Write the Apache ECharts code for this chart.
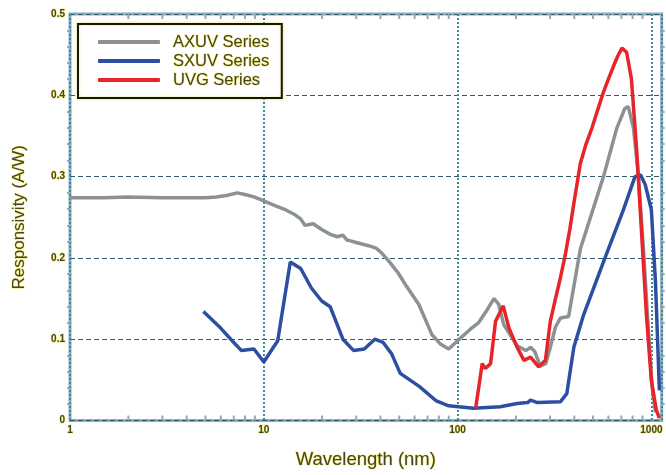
<!DOCTYPE html>
<html>
<head>
<meta charset="utf-8">
<script src="https://cdn.jsdelivr.net/npm/echarts@6/dist/echarts.min.js"></script>
<style>
  html, body { margin: 0; padding: 0; background: #fff; }
  #chart { width: 666px; height: 475px; }
</style>
</head>
<body>
<div id="chart"></div>
<script>
// wavelength (nm) / responsivity (A/W)
var axuvWl = [1, 1.5, 2, 3, 4, 5, 5.7, 6.5, 7.3, 8, 8.9, 10, 11.5, 13, 14.5, 15.5, 16.3, 18, 19.9, 22, 24, 25.6, 26.9, 28, 30, 34.7, 38, 40.2, 44.5, 49.2, 54.5, 63, 68, 73.6, 81.5, 90, 100, 116, 128, 142, 154, 163, 173, 203, 225, 238, 250, 267, 285, 301, 320, 339, 374, 430, 566, 664, 730, 760, 808, 858, 910, 960, 1010, 1050]
var axuvResp = [0.274, 0.274, 0.275, 0.274, 0.274, 0.274, 0.275, 0.277, 0.280, 0.278, 0.275, 0.270, 0.264, 0.259, 0.253, 0.248, 0.240, 0.242, 0.235, 0.229, 0.226, 0.228, 0.222, 0.221, 0.219, 0.215, 0.212, 0.207, 0.195, 0.182, 0.165, 0.143, 0.125, 0.106, 0.094, 0.088, 0.098, 0.112, 0.120, 0.136, 0.150, 0.143, 0.118, 0.092, 0.086, 0.090, 0.085, 0.067, 0.070, 0.090, 0.115, 0.126, 0.128, 0.211, 0.300, 0.360, 0.384, 0.386, 0.360, 0.300, 0.211, 0.120, 0.040, 0.010]

var sxuvWl = [4.88, 5.97, 7.0, 7.67, 8.9, 10, 11.8, 13.7, 15.5, 17.6, 19.9, 22, 25.6, 29.1, 33, 37.4, 41.3, 45.7, 50.6, 63.4, 77.7, 90, 121, 166, 203, 230, 238, 258, 339, 366, 398, 447, 566, 717, 823, 880, 930, 1000, 1050, 1100]
var sxuvResp = [0.134, 0.114, 0.096, 0.086, 0.088, 0.072, 0.098, 0.195, 0.187, 0.163, 0.147, 0.140, 0.100, 0.086, 0.088, 0.100, 0.096, 0.082, 0.058, 0.042, 0.024, 0.018, 0.015, 0.017, 0.021, 0.022, 0.025, 0.022, 0.023, 0.033, 0.090, 0.130, 0.195, 0.259, 0.300, 0.302, 0.290, 0.259, 0.170, 0.037]

var uvgWl = [124, 134, 139, 148, 157, 172, 184, 203, 220, 238, 262, 284, 301, 320, 339, 359, 380, 398, 430, 460, 494, 530, 566, 600, 638, 670, 705, 745, 789, 840, 890, 943, 999, 1060, 1100]
var uvgResp = [0.015, 0.070, 0.064, 0.070, 0.122, 0.141, 0.114, 0.090, 0.074, 0.078, 0.066, 0.074, 0.122, 0.150, 0.175, 0.203, 0.236, 0.267, 0.316, 0.340, 0.360, 0.383, 0.404, 0.420, 0.436, 0.448, 0.458, 0.453, 0.420, 0.332, 0.231, 0.130, 0.050, 0.013, 0.003]

var minorTicks = [2, 3, 4, 5, 6, 7, 8, 9, 20, 30, 40, 50, 60, 70, 80, 90, 200, 300, 400, 500, 600, 700, 800, 900]

function zip(xs, ys) {
  return xs.map(function (x, i) { return [x, ys[i]] })
}

var textCol = '#4a4712'
var halo = 'rgba(235,225,90,0.8)'
var frameCol = '#8eaabb'
var font = 'Liberation Sans, Arial, sans-serif'

var chart = echarts.init(document.getElementById('chart'))

var yAxisBase = {
  type: 'value',
  min: 0,
  max: 0.5,
  interval: 0.1,
  axisLine: { show: false },
  axisTick: { show: false },
  minorTick: { show: true, splitNumber: 5, length: 3, lineStyle: { color: frameCol, width: 2 } },
  minorSplitLine: { show: false }
}

var option = {
  animation: false,
  grid: {
    left: 70, right: 2, top: 14, bottom: 47,
    show: true, borderColor: frameCol, borderWidth: 3, backgroundColor: '#fff'
  },
  legend: {
    orient: 'vertical',
    left: 78, top: 24,
    padding: [9, 12, 9, 20],
    itemGap: 1,
    itemWidth: 62, itemHeight: 4,
    icon: 'roundRect',
    borderColor: '#151510', borderWidth: 2,
    shadowColor: halo, shadowBlur: 3,
    backgroundColor: '#fff',
    textStyle: {
      fontFamily: font, fontSize: 16.5,
      color: textCol, textBorderColor: halo, textBorderWidth: 1,
      padding: [0, 0, 0, 8]
    },
    data: ['AXUV Series', 'SXUV Series', 'UVG Series']
  },
  xAxis: [{
    type: 'log',
    logBase: 10,
    min: 1,
    max: 1130,
    name: 'Wavelength (nm)',
    nameLocation: 'middle',
    nameGap: 30,
    nameTextStyle: {
      fontFamily: font, fontSize: 18.5,
      color: textCol, textBorderColor: halo, textBorderWidth: 1
    },
    axisLine: { show: false },
    axisTick: { show: false },
    axisLabel: {
      fontFamily: font, fontSize: 10, fontWeight: 'bold',
      color: textCol, textBorderColor: halo, textBorderWidth: 1, margin: 5,
      showMaxLabel: false,
      formatter: function (v) { return [1, 10, 100, 1000].indexOf(v) >= 0 ? String(v) : '' }
    },
    splitLine: { show: true, lineStyle: { color: '#3a8c98', type: [2, 2], width: 2 } }
  }],
  yAxis: [
    Object.assign({}, yAxisBase, {
      position: 'left',
      name: 'Responsivity (A/W)',
      nameLocation: 'middle',
      nameGap: 42,
      nameTextStyle: {
        fontFamily: font, fontSize: 17,
        color: textCol, textBorderColor: halo, textBorderWidth: 1
      },
      axisLabel: {
        fontFamily: font, fontSize: 10, fontWeight: 'bold',
        color: textCol, textBorderColor: halo, textBorderWidth: 1, margin: 5,
        formatter: function (v) { return v === 0 ? '0' : String(+v.toFixed(1)) }
      },
      splitLine: { show: true, lineStyle: { color: '#2c5d68', type: [5, 3], width: 1.2 } }
    }),
    Object.assign({}, yAxisBase, {
      position: 'right',
      axisLabel: { show: false },
      splitLine: { show: false }
    })
  ],
  series: [
    {
      type: 'custom',
      silent: true,
      renderItem: function (params, api) {
        var b = api.coord([api.value(0), 0])
        var t = api.coord([api.value(0), 0.5])
        var st = { stroke: frameCol, lineWidth: 2 }
        return {
          type: 'group',
          children: [
            { type: 'line', shape: { x1: b[0], y1: b[1], x2: b[0], y2: b[1] - 5 }, style: st },
            { type: 'line', shape: { x1: t[0], y1: t[1], x2: t[0], y2: t[1] + 5 }, style: st }
          ]
        }
      },
      data: minorTicks.map(function (v) { return [v, 0] }),
      z: 1
    },
    {
      name: 'AXUV Series',
      type: 'line',
      data: zip(axuvWl, axuvResp),
      showSymbol: false,
      color: '#8a9292',
      lineStyle: { width: 3.5, color: '#8a9292' },
      z: 3
    },
    {
      name: 'SXUV Series',
      type: 'line',
      data: zip(sxuvWl, sxuvResp),
      showSymbol: false,
      color: '#2d4fa2',
      lineStyle: { width: 3.5, color: '#2d4fa2' },
      z: 4
    },
    {
      name: 'UVG Series',
      type: 'line',
      data: zip(uvgWl, uvgResp),
      showSymbol: false,
      color: '#e8232a',
      lineStyle: { width: 3.5, color: '#e8232a' },
      z: 5
    }
  ]
}

chart.setOption(option)
</script>
</body>
</html>
